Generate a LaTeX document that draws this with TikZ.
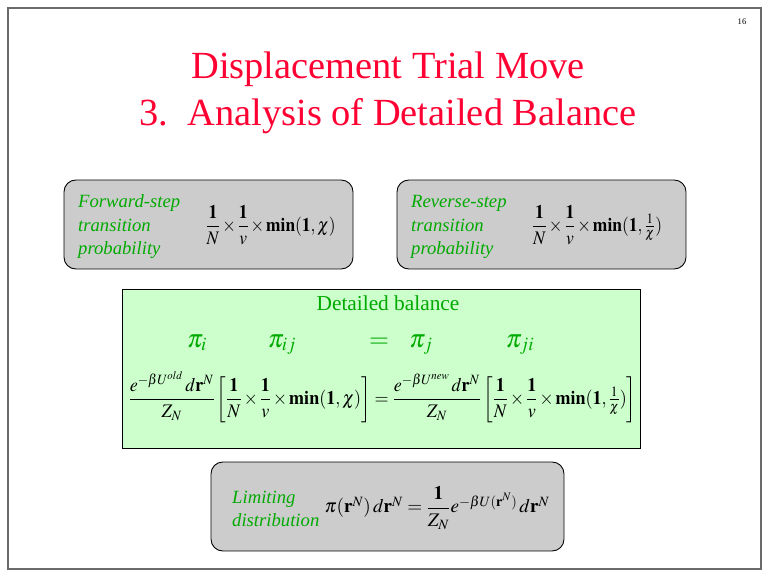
\documentclass[tikz,border=0pt]{standalone}
\usepackage{amsmath}
\usepackage{graphicx}
\usepackage{mathptmx}
\usepackage{fontspec}
\setmainfont{Liberation Serif}
\definecolor{titlered}{RGB}{255,0,51}
\definecolor{slgreen}{RGB}{0,170,0}
\definecolor{boxgray}{RGB}{204,204,204}
\definecolor{boxgreen}{RGB}{204,255,204}
\definecolor{framegray}{RGB}{106,106,106}
\newcommand{\tms}{\mkern2mu\mathord{\times}\mkern2mu}
\newcommand{\fwdprob}{\dfrac{\mathbf{1}}{N}\tms\dfrac{\mathbf{1}}{v}\tms\mathbf{min(1,}\,\chi\mathbf{)}}
\newcommand{\revprob}{\dfrac{\mathbf{1}}{N}\tms\dfrac{\mathbf{1}}{v}\tms\mathbf{min(1,}\,\tfrac{1}{\chi}\mathbf{)}}
\begin{document}
\begin{tikzpicture}[x=0.9375pt,y=-0.9375pt,
  graybox/.style={draw=black, line width=0.8pt, fill=boxgray, rounded corners=11pt, inner sep=0pt},
  greenbox/.style={draw=black, line width=0.8pt, fill=boxgreen, inner sep=0pt},
  titletext/.style={text=titlered, font=\fontsize{36}{40}\selectfont, inner sep=0pt, anchor=base},
  labeltext/.style={text=slgreen, font=\fontsize{17.5}{22}\selectfont\itshape, inner sep=0pt, anchor=base west},
  formula/.style={inner sep=0pt, font=\fontsize{18}{20}\selectfont},
  pitext/.style={text=slgreen, inner sep=0pt, anchor=base, font=\fontsize{24}{26}\selectfont}]
\useasboundingbox (0,0) rectangle (768,576);
\fill[white] (0,0) rectangle (768,576);
\draw[framegray, line width=2.2pt] (8,8) rectangle (761,569);
\node[inner sep=0pt, anchor=base, font=\fontsize{8}{9}\selectfont] (pnum) at (742,25) {16};
% title
\node[titletext] (t1) at (388,79) {Displacement Trial Move};
\node[titletext] (t2) at (388,126) {3.\ \ Analysis of Detailed Balance};
% forward box
\node[graybox, minimum width=270.9pt, minimum height=83.4pt] (fwd) at (208.5,224.5) {};
\node[labeltext] (f1) at (78,208) {Forward-step};
\node[labeltext] (f2) at (78,232) {transition};
\node[labeltext] (f3) at (78,255) {probability};
\node[formula] (ff) at (270.5,225) {\resizebox{122pt}{\height}{$\fwdprob$}};
% reverse box
\node[graybox, minimum width=270.9pt, minimum height=83.4pt] (rev) at (541.5,224.5) {};
\node[labeltext] (r1) at (411,208) {Reverse-step};
\node[labeltext] (r2) at (411,232) {transition};
\node[labeltext] (r3) at (411,255) {probability};
\node[formula] (rf) at (597,225) {\resizebox{122pt}{\height}{$\revprob$}};
% detailed balance box
\node[greenbox, minimum width=485.6pt, minimum height=149.1pt] (bal) at (381,368.5) {};
\node[inner sep=0pt, anchor=base, text=slgreen, font=\fontsize{20}{22}\selectfont] (bt) at (388,310) {Detailed balance};
\node[pitext] (p1) at (197,347) {$\pi_i$};
\node[pitext] (p2) at (282,347) {$\pi_{ij}$};
\node[pitext] (p3) at (379,347) {$=$};
\node[pitext] (p4) at (421,347) {$\pi_j$};
\node[pitext] (p5) at (520,347) {$\pi_{ji}$};
\node[formula] (bf) at (382.5,397) {\resizebox{476pt}{\height}{$\dfrac{e^{-\beta U^{old}}\,d\mathbf{r}^N}{Z_N}\left[\fwdprob\right]=\dfrac{e^{-\beta U^{new}}\,d\mathbf{r}^N}{Z_N}\left[\revprob\right]$}};
% limiting box
\node[graybox, minimum width=330.9pt, minimum height=83.4pt] (lim) at (387.5,506.5) {};
\node[labeltext] (l1) at (232,503) {Limiting};
\node[labeltext] (l2) at (232,526) {distribution};
\node[formula] (lf) at (437,508) {$\pi(\mathbf{r}^N)\,d\mathbf{r}^N=\dfrac{\mathbf{1}}{Z_N}e^{-\beta U(\mathbf{r}^N)}\,d\mathbf{r}^N$};
\end{tikzpicture}
\end{document}
